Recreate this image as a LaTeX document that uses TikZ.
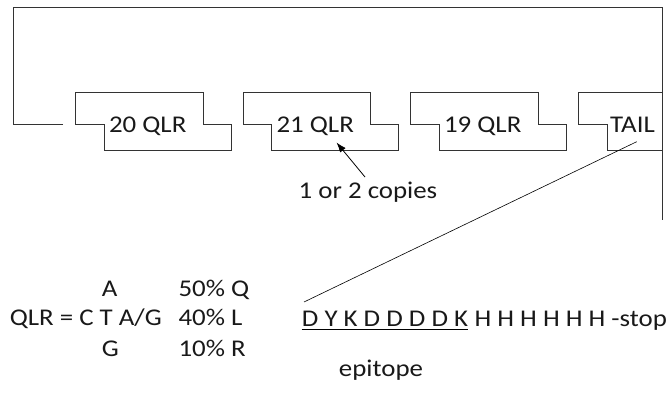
\documentclass[tikz,border=0pt]{standalone}
\usepackage{fontspec}
\setmainfont{Carlito}[FakeStretch=1.12]
\usetikzlibrary{arrows.meta}
\begin{document}
\begin{tikzpicture}[x=1pt,y=-1pt,
  ln/.style={line width=0.8pt,draw=black!80},
  lbl/.style={inner sep=0pt,font=\fontsize{24}{28}\selectfont,text=black!90},
  qlrbox/.style={ln}]
\useasboundingbox (0,0) rectangle (671,394);
% frame
\coordinate (f0) at (63,124);
\coordinate (f1) at (13.3,124);
\coordinate (f2) at (13.3,7.3);
\coordinate (f3) at (662.3,7.3);
\coordinate (f4) at (662.3,220);
\draw[ln] (f0) -- (f1) -- (f2) -- (f3) -- (f4);
% QLR boxes
\foreach \L/\t/\n in {75.7/20 QLR/b1, 243.2/21 QLR/b2, 410.7/19 QLR/b3}{
  \draw[qlrbox] (\L,92.5) -- ++(127.6,0) -- ++(0,31.5) -- ++(27.7,0) -- ++(0,26.5)
     -- ++(-126.7,0) -- ++(0,-26.5) -- ++(-28.6,0) -- cycle;
  \node[lbl,anchor=base] (\n) at (\L+72,132.5) {\t};
}
% tail box
\draw[qlrbox] (662.3,92.5) -- (578.5,92.5) -- (578.5,124) -- (607.1,124) -- (607.1,150.5) -- (662.3,150.5);
\node[lbl,anchor=base] (tail) at (632.5,132.5) {TAIL};
% copies
\node[lbl,anchor=base] (copies) at (368,198) {1 or 2 copies};
\coordinate (ca) at (365,177);
\coordinate (cb) at (336.5,142.5);
\draw[line width=0.8pt,-{Latex[length=10pt,width=7pt]}] (ca) -- (cb);
% codon table
\node[lbl,anchor=base west] (nA) at (101.7,296.7) {A};
\node[lbl,anchor=base west] (p50) at (178.3,296.7) {50\% Q};
\node[lbl,anchor=base east] (qlr) at (162,325) {QLR = C T A/G};
\node[lbl,anchor=base west] (p40) at (178.3,325) {40\% L};
\node[lbl,anchor=base west] (nG) at (101.7,356.7) {G};
\node[lbl,anchor=base west] (p10) at (178.3,356.7) {10\% R};
% epitope sequence
\node[lbl,anchor=base west] (epi) at (301.7,326.5) {D Y K D D D D K};
\node[lbl,anchor=base west] (his) at ([xshift=6pt]epi.base east) {H H H H H H -stop};
\draw[line width=0.8pt] ([yshift=-2.6pt]epi.base west) -- ([yshift=-2.6pt]epi.base east);
\node[lbl,anchor=base] (epitope) at (381,376) {epitope};
% tail line
\coordinate (ta) at (636.7,141.7);
\coordinate (tb) at (304,302);
\draw[line width=0.6pt] (ta) -- (tb);
\end{tikzpicture}
\end{document}
